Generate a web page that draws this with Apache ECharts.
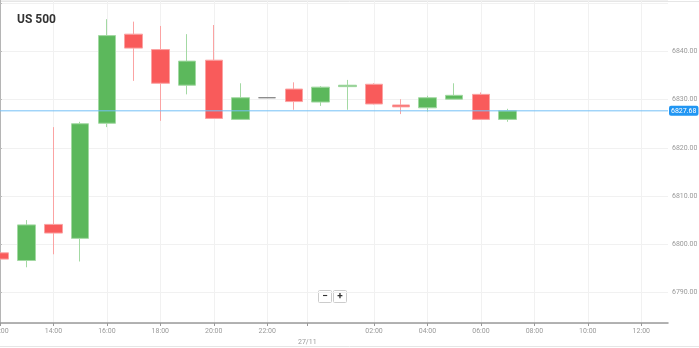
<!DOCTYPE html>
<html>
<head>
<meta charset="utf-8">
<script src="https://cdn.jsdelivr.net/npm/echarts@6/dist/echarts.min.js"></script>
<style>
  html, body { margin: 0; padding: 0; background: #fff; }
  #chart { width: 699px; height: 348px; }
</style>
</head>
<body>
<div id="chart"></div>
<script>
// hours since 12:00 on 26/11
const hours  = [0, 1, 2, 3, 4, 5, 6, 7, 8, 9, 10, 11, 12, 13, 14, 15, 16, 17, 18, 19];
const opens  = [6798.2, 6796.6, 6804.1, 6801.2, 6825.1, 6843.6, 6840.4, 6833.0, 6838.2, 6825.9, 6830.4, 6832.2, 6829.5, 6832.7, 6833.2, 6828.9, 6828.3, 6830.1, 6831.1, 6825.9];
const closes = [6796.9, 6804.0, 6802.3, 6825.0, 6843.3, 6840.7, 6833.4, 6838.0, 6826.1, 6830.4, 6830.4, 6829.6, 6832.6, 6833.0, 6829.1, 6828.5, 6830.4, 6830.9, 6825.9, 6827.68];
const lows   = [6796.9, 6795.2, 6797.9, 6796.4, 6824.3, 6833.9, 6825.6, 6831.1, 6826.0, 6825.9, 6830.4, 6827.9, 6828.7, 6827.9, 6829.0, 6827.0, 6827.5, 6830.1, 6825.9, 6825.4];
const highs  = [6798.2, 6805.0, 6824.3, 6825.4, 6846.7, 6846.2, 6845.3, 6843.6, 6845.5, 6833.4, 6830.4, 6833.6, 6832.8, 6834.1, 6833.4, 6830.1, 6830.8, 6833.4, 6831.5, 6828.1];

const xTickValues = [0, 2, 4, 6, 8, 10, 11.5, 14, 16, 18, 20, 22, 24];
const dayMarker = 11.5;
const dayLabel = "27/11";
const lastPrice = 6827.68;
const xRange = [0, 25];
const title = "US 500";

const data = hours.map((h, i) => [h, opens[i], closes[i], lows[i], highs[i]]);

function hourLabel(v) {
    const h = (12 + v) % 24;
    return (h < 10 ? "0" : "") + h + ":00";
}

const chart = echarts.init(document.getElementById("chart"), null, { renderer: "canvas" });
chart.setOption({
    animation: false,
    textStyle: { fontFamily: "Roboto" },
    title: {
        text: title, left: 12, top: 9,
        textStyle: { fontSize: 12, fontWeight: "bold", color: "#333", fontFamily: "Roboto" }
    },
    grid: { left: 0, right: 31, top: 0, bottom: 25, containLabel: false, outerBoundsMode: "none" },
    xAxis: {
        type: "value", min: xRange[0], max: xRange[1],
        axisLine: { lineStyle: { color: "#9a9a9a", width: 1.5 } },
        axisTick: { customValues: xTickValues, length: 3, lineStyle: { color: "#999" } },
        axisLabel: {
            customValues: xTickValues,
            color: "#999", fontSize: 7, margin: 5,
            formatter: v => v === dayMarker ? "{d|" + dayLabel + "}" : hourLabel(v),
            rich: { d: { fontSize: 7, color: "#999", padding: [11, 0, 0, 0] } }
        },
        splitLine: { show: true, lineStyle: { color: "#f1f1f1" } }
    },
    yAxis: {
        type: "value", position: "right",
        min: 6783.63, max: 6850.69, splitNumber: 7,
        axisLine: { show: true, lineStyle: { color: "#b5b5b5", width: 2 } },
        axisTick: { show: true, length: 2, lineStyle: { color: "#bbb" } },
        axisLabel: {
            color: "#999", fontSize: 7, margin: 4,
            showMinLabel: false, showMaxLabel: false,
            formatter: v => (v < 6785 || v > 6845) ? "" : v.toFixed(2)
        },
        splitLine: { show: true, lineStyle: { color: "#f1f1f1" } }
    },
    series: [
        {
            type: "candlestick",
            data: data,
            barWidth: 18, z: 2,
            itemStyle: {
                color: "#5cb85c", color0: "#f95b5b",
                borderColor: "#a3d9a3", borderColor0: "#fba3a3",
                borderColorDoji: "#888",
                borderWidth: 1
            }
        },
        {
            // last price line drawn over the candles
            type: "line",
            data: [[xRange[0], lastPrice], [xRange[1], lastPrice]],
            showSymbol: false, silent: true, z: 3,
            lineStyle: { color: "#74c0f6", width: 1 },
            endLabel: {
                show: true, distance: 1,
                formatter: lastPrice.toFixed(2),
                color: "#fff", fontSize: 7,
                backgroundColor: "#2196f3", borderRadius: 2, padding: [2, 2, 1, 2]
            }
        }
    ],
    graphic: [
        { type: "line", shape: { x1: 0, y1: 1.5, x2: 699, y2: 1.5 }, style: { stroke: "#e6e6e6", lineWidth: 1 } },
        { type: "line", shape: { x1: 0, y1: 346.5, x2: 699, y2: 346.5 }, style: { stroke: "#e6e6e6", lineWidth: 1 } },
        { type: "rect", shape: { x: 318.5, y: 290.5, width: 13, height: 12, r: 1 }, style: { fill: "#fff", stroke: "#ccc" } },
        { type: "text", x: 325, y: 296.5, style: { text: "−", fill: "#333", font: "bold 10px Roboto", align: "center", verticalAlign: "middle" } },
        { type: "rect", shape: { x: 333.5, y: 290.5, width: 13, height: 12, r: 1 }, style: { fill: "#fff", stroke: "#ccc" } },
        { type: "text", x: 340, y: 296.5, style: { text: "+", fill: "#333", font: "bold 10px Roboto", align: "center", verticalAlign: "middle" } }
    ]
});
</script>
</body>
</html>
